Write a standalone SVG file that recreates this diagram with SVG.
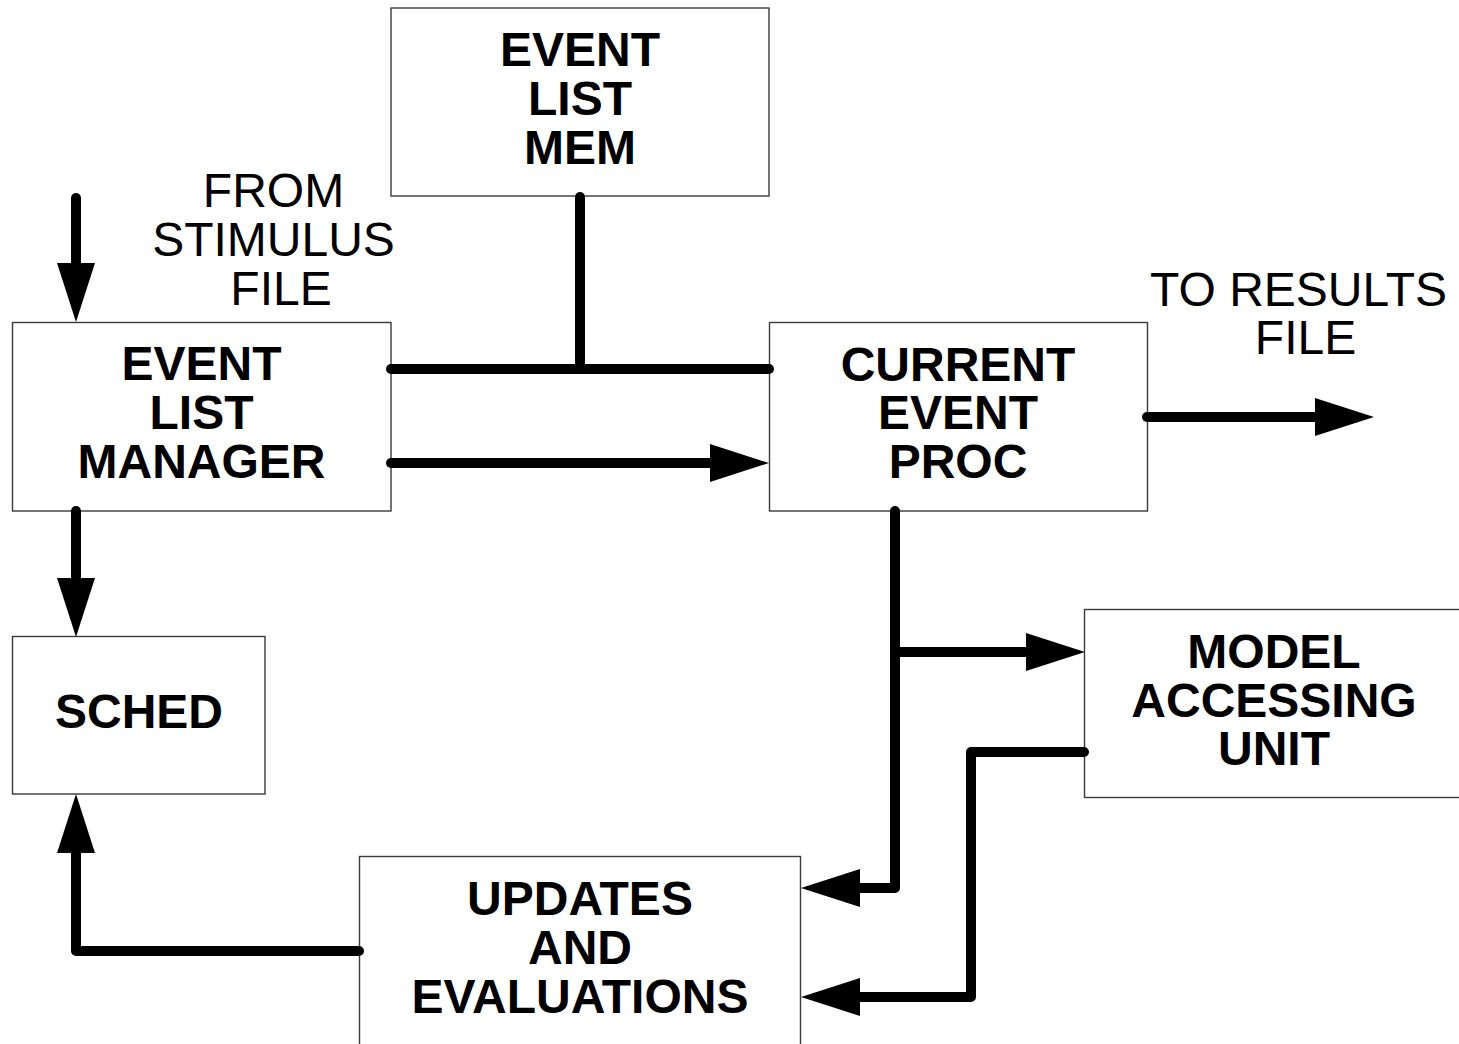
<svg xmlns="http://www.w3.org/2000/svg" width="1459" height="1044" viewBox="0 0 1459 1044">
  <style>
    .box { fill: #ffffff; stroke: #3a3a3a; stroke-width: 1.4; }
    .lbl { font-family: "Liberation Sans", Arial, sans-serif; font-size: 48px; font-weight: bold; fill: #000; text-anchor: middle; }
    .note { font-family: "Liberation Sans", Arial, sans-serif; font-size: 48px; fill: #000; text-anchor: middle; }
    .wire { fill: none; stroke: #000; stroke-width: 10; stroke-linecap: round; stroke-linejoin: round; }
  </style>
  <defs>
    <marker id="head" markerUnits="userSpaceOnUse" markerWidth="60" markerHeight="40" viewBox="0 -20 60 40" refX="0" refY="0" orient="auto" overflow="visible">
      <path d="M0,-19 L59,0 L0,19 Z" fill="#000"/>
    </marker>
  </defs>

  <rect width="1459" height="1044" fill="#ffffff"/>

  <g id="event-list-mem">
    <rect class="box" x="391" y="8" width="378" height="188"/>
    <text class="lbl" x="580" y="65.5">EVENT</text>
    <text class="lbl" x="580" y="115">LIST</text>
    <text class="lbl" x="580" y="164">MEM</text>
  </g>

  <g id="event-list-manager">
    <rect class="box" x="12.5" y="322.5" width="378.5" height="188.5"/>
    <text class="lbl" x="201.5" y="380">EVENT</text>
    <text class="lbl" x="201.5" y="429">LIST</text>
    <text class="lbl" x="201.5" y="478">MANAGER</text>
  </g>

  <g id="current-event-proc">
    <rect class="box" x="769.5" y="322.5" width="378" height="188.5"/>
    <text class="lbl" x="958" y="380.5">CURRENT</text>
    <text class="lbl" x="958" y="429">EVENT</text>
    <text class="lbl" x="958" y="478">PROC</text>
  </g>

  <g id="sched">
    <rect class="box" x="12.5" y="636.5" width="252.5" height="157.5"/>
    <text class="lbl" x="139" y="728">SCHED</text>
  </g>

  <g id="model-accessing-unit">
    <rect class="box" x="1084.5" y="609.5" width="390" height="188"/>
    <text class="lbl" x="1274" y="667.5">MODEL</text>
    <text class="lbl" x="1274" y="716.5">ACCESSING</text>
    <text class="lbl" x="1274" y="765">UNIT</text>
  </g>

  <g id="updates-and-evaluations">
    <rect class="box" x="359.5" y="856.5" width="441" height="210"/>
    <text class="lbl" x="580" y="915">UPDATES</text>
    <text class="lbl" x="580" y="963.5">AND</text>
    <text class="lbl" x="580" y="1012.5">EVALUATIONS</text>
  </g>

  <g id="stimulus-label">
    <text class="note" x="273.5" y="207">FROM</text>
    <text class="note" x="273.5" y="256">STIMULUS</text>
    <text class="note" x="281" y="305">FILE</text>
  </g>

  <g id="results-label">
    <text class="note" x="1298.5" y="306">TO RESULTS</text>
    <text class="note" x="1305.5" y="354">FILE</text>
  </g>

  <g id="connectors">
    <!-- input from stimulus file -->
    <path class="wire" d="M76,198 V263" marker-end="url(#head)"/>
    <!-- shared bus between manager, memory and processor -->
    <path class="wire" d="M580,197 V369"/>
    <path class="wire" d="M391,369 H769"/>
    <!-- manager to current event processor -->
    <path class="wire" d="M391,463 H710" marker-end="url(#head)"/>
    <!-- output to results file -->
    <path class="wire" d="M1147,417 H1315" marker-end="url(#head)"/>
    <!-- manager to scheduler -->
    <path class="wire" d="M76,511 V578" marker-end="url(#head)"/>
    <!-- processor down to updates -->
    <path class="wire" d="M895,511 V888 H860" marker-end="url(#head)"/>
    <!-- processor branch to model accessing unit -->
    <path class="wire" d="M895,652 H1026" marker-end="url(#head)"/>
    <!-- model accessing unit to updates -->
    <path class="wire" d="M1084,752 H971 V997 H860" marker-end="url(#head)"/>
    <!-- updates back to scheduler -->
    <path class="wire" d="M359,951 H76 V853" marker-end="url(#head)"/>
  </g>
</svg>
